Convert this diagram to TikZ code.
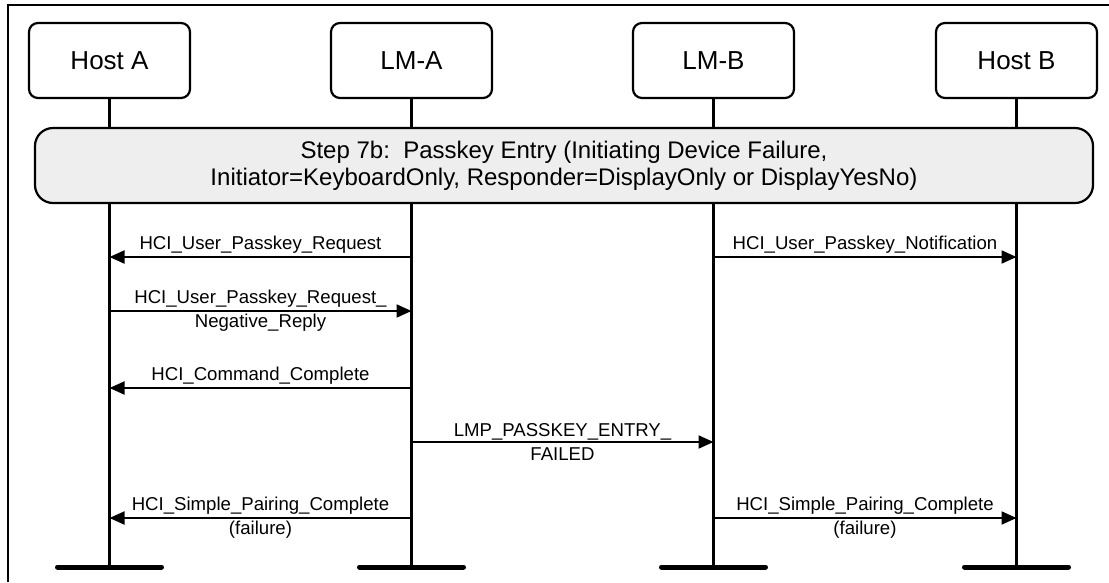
\documentclass[tikz,border=0pt]{standalone}
\usepackage{fontspec}
\setmainfont{Liberation Sans}
\usetikzlibrary{arrows.meta,positioning,calc}
\definecolor{StepGray}{HTML}{EEEEEE}

\begin{document}
\begin{tikzpicture}[x=1pt,y=-1pt,
  ent/.style={draw,line width=2.2pt,rounded corners=9pt,minimum width=161pt,
    minimum height=75pt,font=\fontsize{26}{30}\selectfont},
  life/.style={line width=2.2pt},
  foot/.style={line width=5pt,line cap=round},
  msg/.style={line width=2pt,-{Triangle[length=15pt,width=13pt]}},
  lbl/.style={font=\fontsize{18.6}{24}\selectfont,inner sep=0pt,align=center}]
  \useasboundingbox (0,0) rectangle (1109,582);
  % frame
  \draw[line width=2.2pt] (8,582)--(8,5)--(1109,5);
  % entities
  \node[ent] (hostA) at (109.5,60.5) {Host A};
  \node[ent] (lmA)   at (411.5,60.5) {LM-A};
  \node[ent] (lmB)   at (713.5,60.5) {LM-B};
  \node[ent] (hostB) at (1016.5,60.5) {Host B};
  \foreach \e/\f in {hostA/endA,lmA/endLA,lmB/endLB,hostB/endB} {
    \coordinate (\f) at (\e |- 0,567);
    \draw[life] (\e.south) -- (\f);
    \draw[foot] ($(\f)+(-52,0)$) -- ($(\f)+(52,0)$);
  }
  % step box
  \node[draw,line width=2.2pt,fill=StepGray,rounded corners=18pt,
    minimum width=1058pt,minimum height=75pt,align=center,
    font=\fontsize{24}{27}\selectfont] (step) at (564,165.5)
    {Step 7b:\ \ Passkey Entry (Initiating Device Failure,\\
     Initiator=KeyboardOnly, Responder=DisplayOnly or DisplayYesNo)};
  % messages
  \draw[msg] (lmA |- 0,257) -- (hostA |- 0,257)
    node[lbl,midway,above=3pt] {HCI\_User\_Passkey\_Request};
  \draw[msg] (lmB |- 0,257) -- (hostB |- 0,257)
    node[lbl,midway,above=3pt] {HCI\_User\_Passkey\_Notification};
  \draw[msg] (hostA |- 0,311) -- (lmA |- 0,311)
    node[lbl,midway] {HCI\_User\_Passkey\_Request\_\\Negative\_Reply};
  \draw[msg] (lmA |- 0,388) -- (hostA |- 0,388)
    node[lbl,midway,above=3pt] {HCI\_Command\_Complete};
  \draw[msg] (lmA |- 0,442) -- (lmB |- 0,442)
    node[lbl,midway] {LMP\_PASSKEY\_ENTRY\_\\FAILED};
  \draw[msg] (lmA |- 0,518) -- (hostA |- 0,518)
    node[lbl,midway] {HCI\_Simple\_Pairing\_Complete\\(failure)};
  \draw[msg] (lmB |- 0,518) -- (hostB |- 0,518)
    node[lbl,midway] {HCI\_Simple\_Pairing\_Complete\\(failure)};
\end{tikzpicture}
\end{document}
